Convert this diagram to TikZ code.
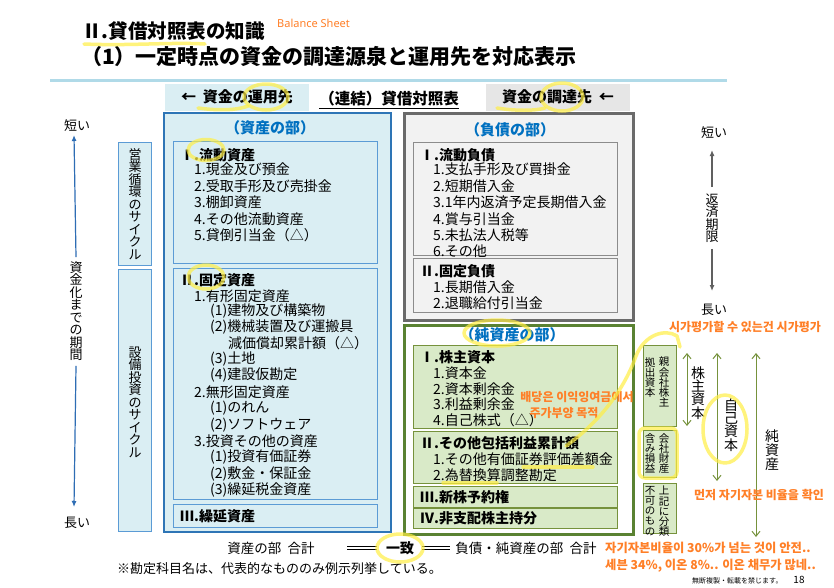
\documentclass[tikz,border=0pt]{standalone}
\usepackage{fontspec}
\setmainfont{Noto Sans CJK JP}
\newfontfamily\krfont{Noto Sans CJK KR}
\newfontfamily\latsans{Noto Sans}
\usetikzlibrary{arrows.meta}
\definecolor{bluebd}{HTML}{2E75B6}
\definecolor{bluein}{HTML}{5B9BD5}
\definecolor{bluefill}{HTML}{DAEEF3}
\definecolor{bluetext}{HTML}{0070C0}
\definecolor{greybd}{HTML}{6A6A6A}
\definecolor{greyin}{HTML}{8C8C8C}
\definecolor{greyfill}{HTML}{F2F2F2}
\definecolor{hdrgrey}{HTML}{E6E6E6}
\definecolor{greenbd}{HTML}{5A8232}
\definecolor{greenin}{HTML}{76923C}
\definecolor{greenfill}{HTML}{D9EAC8}
\definecolor{orng}{HTML}{FF7F27}
\definecolor{hl}{HTML}{FFEE44}
\definecolor{lineblue}{HTML}{B0DAE8}
\definecolor{arrblue}{HTML}{2E6DB4}
\definecolor{arrgrey}{HTML}{606060}
\begin{document}
\begin{tikzpicture}[x=1pt,y=-1pt,
  t/.style={anchor=west,inner sep=0pt,font=\fontsize{14}{16}\selectfont},
  tb/.style={anchor=west,inner sep=0pt,font=\fontsize{14}{16}\selectfont\bfseries},
  sec/.style={inner sep=0pt,text=bluetext,font=\fontsize{15}{17}\selectfont\bfseries},
  vt/.style={inner sep=0pt,align=center,font=\fontsize{13}{12.5}\selectfont},
  vs/.style={anchor=north,inner sep=0pt,align=center,font=\fontsize{10.5}{10.2}\selectfont},
  kr/.style={inner sep=0pt,text=orng,font=\krfont\fontsize{12}{14}\selectfont\bfseries},
  hlp/.style={draw=hl,line width=3.5pt,opacity=0.7,line cap=round,line join=round},
  bbox/.style={anchor=north west,inner sep=0pt,draw=bluein,line width=1.2pt,fill=bluefill},
  gbox/.style={anchor=north west,inner sep=0pt,draw=greyin,line width=1.2pt,fill=greyfill},
  nbox/.style={anchor=north west,inner sep=0pt,draw=greenin,line width=1.2pt,fill=greenfill},
  barr/.style={draw=arrblue,line width=1.2pt,-{Latex[length=6pt,width=5pt]}},
  garr/.style={draw=arrgrey,line width=1.5pt,-{Latex[length=6pt,width=5pt]}},
  narr/.style={draw=greenin,line width=1pt,{Straight Barb[length=5pt,width=8pt]}-{Straight Barb[length=5pt,width=8pt]}}
]
\useasboundingbox[fill=white] (0,0) rectangle (834,587);

% ---------- title ----------
\node[anchor=west,inner sep=0pt,font=\fontsize{19.5}{22}\selectfont\bfseries] (title) at (82,31) {Ⅱ.貸借対照表の知識};
\node[anchor=west,inner sep=0pt,text=orng,font=\latsans\fontsize{11}{13}\selectfont] (bs) at (277,23) {Balance Sheet};
\node[anchor=west,inner sep=0pt,font=\fontsize{21}{23}\selectfont\bfseries] (sub) at (81,57) {（1）一定時点の資金の調達源泉と運用先を対応表示};
\coordinate (lnA) at (50,80);
\coordinate (lnB) at (727,80);
\draw[lineblue,line width=3pt] (lnA) -- (lnB);

% ---------- headers ----------
\node[anchor=north west,inner sep=0pt,fill=bluefill,minimum width=144pt,minimum height=27pt] (hl) at (165,84) {};
\node[inner sep=0pt,font=\fontsize{15}{17}\selectfont\bfseries] (hlt) at (237,97) {←\ \ 資金の運用先};
\node[inner sep=0pt,font=\fontsize{15.5}{17}\selectfont\bfseries] (hc) at (389,99) {（連結）貸借対照表};
\draw[line width=1pt] ([yshift=-2pt]hc.south west) -- ([yshift=-2pt]hc.south east);
\node[anchor=north west,inner sep=0pt,fill=hdrgrey,minimum width=144pt,minimum height=27pt] (hr) at (486,84) {};
\node[inner sep=0pt,font=\fontsize{15}{17}\selectfont\bfseries] (hrt) at (558,97) {資金の調達先\ \ ←};

% ---------- left scale ----------
\node[inner sep=0pt,font=\fontsize{13}{15}\selectfont] (sL) at (77,126) {短い};
\node[inner sep=0pt,font=\fontsize{13}{15}\selectfont] (lL) at (77,523) {長い};
\node[vt] (vL) at (76,311) {資\\金\\化\\ま\\で\\の\\期\\間};
\coordinate (bTop) at (74,135);
\coordinate (bBot) at (74,507);
\draw[barr] ([yshift=4pt]vL.north) -- (bTop);
\draw[barr] ([yshift=-5pt]vL.south) -- (bBot);

\node[bbox,minimum width=33pt,minimum height=123pt] (cyc1) at (118,142) {};
\node[vt] at (cyc1.center) {営\\業\\循\\環\\の\\サ\\イ\\ク\\ル};
\node[bbox,minimum width=33pt,minimum height=262pt] (cyc2) at (118,269) {};
\node[vt] at (135,402) {設\\備\\投\\資\\の\\サ\\イ\\ク\\ル};

% ---------- assets ----------
\node[anchor=north west,inner sep=0pt,draw=bluebd,line width=2.4pt,fill=bluefill,minimum width=227pt,minimum height=419pt] (asset) at (163,112) {};
\node[sec] (asec) at (270,128) {（資産の部）};
\node[bbox,minimum width=204pt,minimum height=122pt] (ca) at (173,141) {};
\node[bbox,minimum width=204pt,minimum height=231pt] (fa) at (173,268) {};
\node[bbox,minimum width=204pt,minimum height=23pt] (da) at (173,504) {};

\node[tb] at (180,155) {Ⅰ.流動資産};
\node[t] at (194,169) {1.現金及び預金};
\node[t] at (194,186) {2.受取手形及び売掛金};
\node[t] at (194,202) {3.棚卸資産};
\node[t] at (194,219) {4.その他流動資産};
\node[t] at (194,235) {5.貸倒引当金（△）};

\node[tb] at (180,280) {Ⅱ.固定資産};
\node[t] at (194,296) {1.有形固定資産};
\node[t] at (210,311) {(1)建物及び構築物};
\node[t] at (210,327) {(2)機械装置及び運搬具};
\node[t] at (228,343) {減価償却累計額（△）};
\node[t] at (210,359) {(3)土地};
\node[t] at (210,375) {(4)建設仮勘定};
\node[t] at (194,392) {2.無形固定資産};
\node[t] at (210,408) {(1)のれん};
\node[t] at (210,425) {(2)ソフトウェア};
\node[t] at (194,441) {3.投資その他の資産};
\node[t] at (210,457) {(1)投資有価証券};
\node[t] at (210,474) {(2)敷金・保証金};
\node[t] at (210,490) {(3)繰延税金資産};
\node[tb] at (180,516) {Ⅲ.繰延資産};

% ---------- liabilities ----------
\node[anchor=north west,inner sep=0pt,draw=greybd,line width=2.6pt,fill=greyfill,minimum width=229pt,minimum height=207pt] (liab) at (403,112) {};
\node[sec] (lsec) at (510,130) {（負債の部）};
\node[gbox,minimum width=204pt,minimum height=113pt] (cl) at (413,142) {};
\node[gbox,minimum width=204pt,minimum height=54pt] (fl) at (413,258) {};
\node[tb] at (420,155) {Ⅰ.流動負債};
\node[t] at (433,169) {1.支払手形及び買掛金};
\node[t] at (433,186) {2.短期借入金};
\node[t] at (433,202) {3.1年内返済予定長期借入金};
\node[t] at (433,219) {4.賞与引当金};
\node[t] at (433,235) {5.未払法人税等};
\node[t] at (433,251) {6.その他};
\node[tb] at (420,271) {Ⅱ.固定負債};
\node[t] at (433,287) {1.長期借入金};
\node[t] at (433,303) {2.退職給付引当金};

% ---------- net assets ----------
\node[anchor=north west,inner sep=0pt,draw=greenbd,line width=2.6pt,fill=white,minimum width=229pt,minimum height=209pt] (eq) at (403,324) {};
\node[sec] (esec) at (512,335) {（純資産の部）};
\node[nbox,minimum width=204pt,minimum height=83pt] (sh) at (413,345) {};
\node[nbox,minimum width=204pt,minimum height=52pt] (oc) at (413,431) {};
\node[nbox,minimum width=204pt,minimum height=21pt] (sw) at (413,486) {};
\node[nbox,minimum width=204pt,minimum height=20pt] (nc) at (413,508) {};
\node[tb] at (420,357) {Ⅰ.株主資本};
\node[t] at (433,373) {1.資本金};
\node[t] at (433,389) {2.資本剰余金};
\node[t] at (433,404) {3.利益剰余金};
\node[t] at (433,420) {4.自己株式（△）};
\node[tb] at (420,443) {Ⅱ.その他包括利益累計額};
\node[t] at (433,459) {1.その他有価証券評価差額金};
\node[t] at (433,475) {2.為替換算調整勘定};
\node[tb] at (420,497) {Ⅲ.新株予約権};
\node[tb] at (420,518) {Ⅳ.非支配株主持分};

% ---------- right small boxes ----------
\node[nbox,minimum width=33pt,minimum height=81pt] (rb1) at (643,345) {};
\node[vs] at (664,357) {親\\会\\社\\株\\主};
\node[vs] at (650,357) {拠\\出\\資\\本};
\node[nbox,minimum width=33pt,minimum height=47pt] (rb2) at (643,430) {};
\node[vs] at (664,433) {会\\社\\財\\産};
\node[vs] at (650,433) {含\\み\\損\\益};
\node[nbox,minimum width=33pt,minimum height=50pt] (rb3) at (643,483) {};
\node[vs] at (664,486) {上\\記\\に\\分\\類};
\node[vs] at (650,486) {不\\可\\の\\も\\の};

% ---------- right scale ----------
\node[inner sep=0pt,font=\fontsize{13}{15}\selectfont] (sR) at (714,133) {短い};
\node[inner sep=0pt,font=\fontsize{13}{15}\selectfont] (lR) at (714,310) {長い};
\node[vt] (vR) at (712,218) {返\\済\\期\\限};
\coordinate (gTop) at (712,150);
\coordinate (gBot) at (712,291);
\draw[garr] ([yshift=6pt]vR.north) -- (gTop);
\draw[garr] ([yshift=-6pt]vR.south) -- (gBot);

\coordinate (a1t) at (687,353); \coordinate (a1b) at (687,426);
\coordinate (a2t) at (717,353); \coordinate (a2b) at (717,481);
\coordinate (a3t) at (756,353); \coordinate (a3b) at (756,537);
\draw[narr] (a1t) -- (a1b);
\draw[narr] (a2t) -- (a2b);
\draw[narr] (a3t) -- (a3b);
\node[vt,font=\fontsize{14}{12.8}\selectfont] (t1) at (698,393) {株\\主\\資\\本};
\node[vt,font=\fontsize{14}{12.8}\selectfont] (t2) at (731,425) {自\\己\\資\\本};
\node[vt,font=\fontsize{14}{12.3}\selectfont] (t3) at (772,450) {純\\資\\産};

% ---------- bottom ----------
\node[inner sep=0pt,font=\fontsize{13.5}{15}\selectfont] (tA) at (271,548) {資産の部\ \ 合計};
\node[inner sep=0pt,font=\fontsize{14}{15}\selectfont\bfseries] (eqt) at (400,548) {一致};
\coordinate (d1a) at (347,548); \coordinate (d1b) at (377,548);
\coordinate (d2a) at (422,548); \coordinate (d2b) at (450,548);
\draw[double,double distance=2.2pt,line width=0.7pt] (d1a) -- (d1b);
\draw[double,double distance=2.2pt,line width=0.7pt] (d2a) -- (d2b);
\node[inner sep=0pt,font=\fontsize{13.5}{15}\selectfont] (tB) at (526,548) {負債・純資産の部\ \ 合計};
\node[anchor=west,inner sep=0pt,font=\fontsize{13}{15}\selectfont] (note) at (117,569) {※勘定科目名は、代表的なもののみ例示列挙している。};
\node[anchor=west,inner sep=0pt,font=\fontsize{7}{8}\selectfont] (foot) at (692,581) {無断複製・転載を禁じます。};
\node[inner sep=0pt,font=\fontsize{10}{11}\selectfont] (pg) at (799,580) {18};

% ---------- Korean notes ----------
\node[kr] (k1) at (745,327) {시가평가할 수 있는건 시가평가};
\node[kr] (k2) at (577,397) {배당은 이익잉여금에서};
\node[kr] (k3) at (564,413) {주가부양 목적};
\node[kr] (k4) at (759,495) {먼저 자기자본 비율을 확인};
\node[kr,anchor=west,font=\krfont\fontsize{12.3}{14}\selectfont\bfseries] (k5) at (605,548) {자기자본비율이 30\%가 넘는 것이 안전..};
\node[kr,anchor=west,font=\krfont\fontsize{12.3}{14}\selectfont\bfseries] (k6) at (605,566) {세븐 34\%, 이온 8\%.. 이온 채무가 많네..};

% ---------- yellow highlights ----------
\draw[hlp] (84,44) .. controls (130,46) and (170,42) .. (205,44);
\draw[hlp] (198,108) .. controls (220,111) and (238,110) .. (248,106);
\draw[hlp] (266,97) ellipse [x radius=22, y radius=13];
\draw[hlp] (497,108) .. controls (515,111) and (535,111) .. (545,108);
\draw[hlp] (562,97) ellipse [x radius=21, y radius=14];
\draw[hlp] (206,150) ellipse [x radius=18, y radius=10.5];
\draw[hlp] (206,277) ellipse [x radius=18, y radius=12];
\draw[hlp] (497,333) ellipse [x radius=33, y radius=13];
\draw[hlp] (725,429) ellipse [x radius=22, y radius=34];
\draw[hlp,rounded corners=6pt] (639,428) rectangle (677,478);
\draw[hlp] (400,548) ellipse [x radius=23, y radius=14];
\draw[hlp] (523,467) -- (593,467);
\draw[hlp] (443,483) -- (497,483);
\draw[hlp] (566,446) .. controls (595,425) and (622,395) .. (636,356) .. controls (644,335) and (665,328) .. (677,336) -- (680,347);
\end{tikzpicture}
\end{document}
